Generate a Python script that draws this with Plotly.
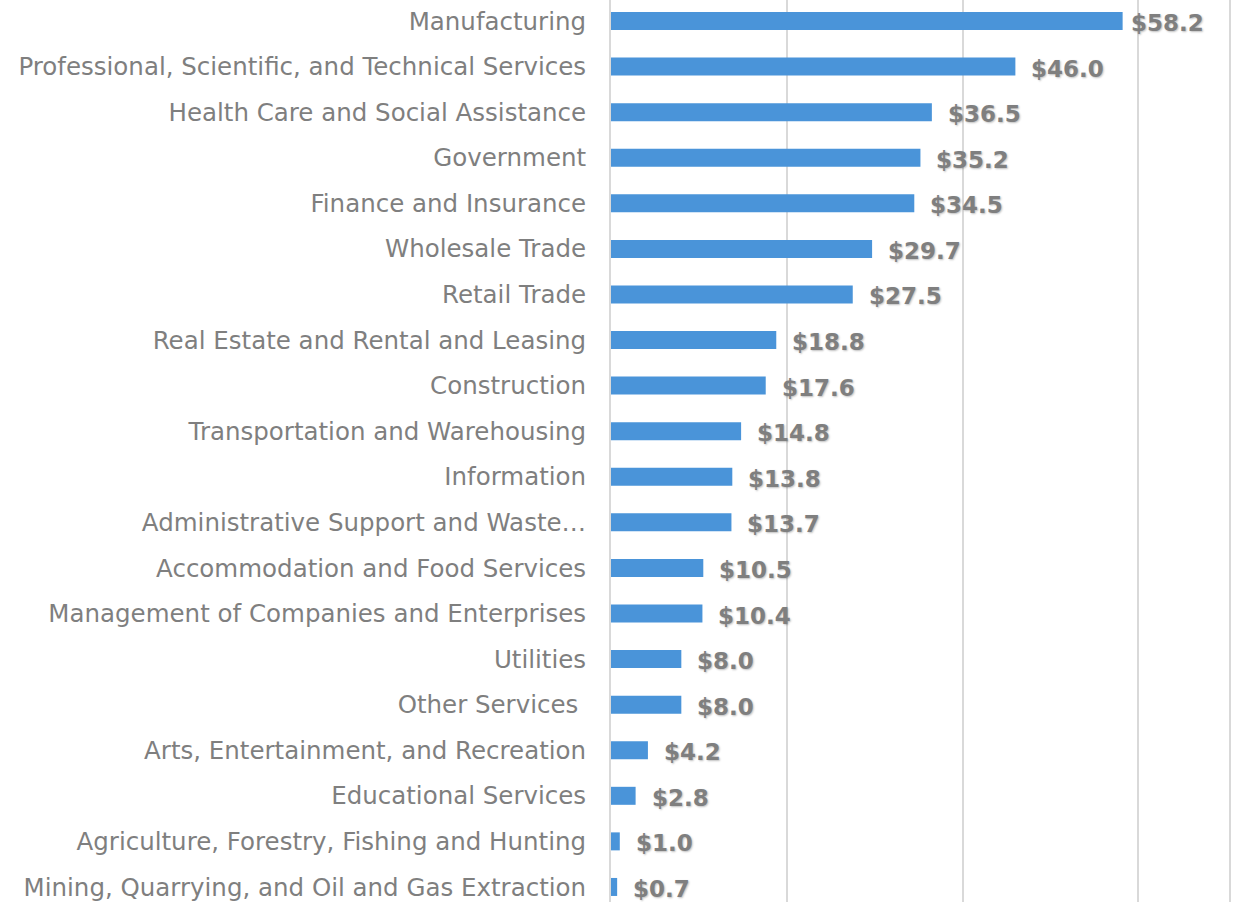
import plotly.graph_objects as go

categories = [
    "Manufacturing",
    "Professional, Scientific, and Technical Services",
    "Health Care and Social Assistance",
    "Government",
    "Finance and Insurance",
    "Wholesale Trade",
    "Retail Trade",
    "Real Estate and Rental and Leasing",
    "Construction",
    "Transportation and Warehousing",
    "Information",
    "Administrative Support and Waste\u2026",
    "Accommodation and Food Services",
    "Management of Companies and Enterprises",
    "Utilities",
    "Other Services\u00a0",
    "Arts, Entertainment, and Recreation",
    "Educational Services",
    "Agriculture, Forestry, Fishing and Hunting",
    "Mining, Quarrying, and Oil and Gas Extraction",
]
values = [58.2, 46.0, 36.5, 35.2, 34.5, 29.7, 27.5, 18.8, 17.6, 14.8,
          13.8, 13.7, 10.5, 10.4, 8.0, 8.0, 4.2, 2.8, 1.0, 0.7]
value_labels = ["$%.1f" % v for v in values]

BAR = "#4a94d9"
TXT = "#7f7f7f"
GRID = "#d9d9d9"

fig = go.Figure()
fig.add_trace(go.Bar(
    x=values, y=categories, orientation="h",
    marker=dict(color=BAR, line=dict(width=0)),
    width=0.395, hoverinfo="skip",
))

for i, (c, v, t) in enumerate(zip(categories, values, value_labels)):
    fig.add_annotation(
        x=v, y=c, text="<b>%s</b>" % t, showarrow=False,
        xanchor="left", yanchor="middle", xshift=6 if i == 0 else 14, yshift=-2,
        font=dict(family="DejaVu Sans", size=23, color=TXT,
                  shadow="1px 1px 2px rgba(0,0,0,0.25)"),
    )

fig.update_layout(
    width=1236, height=902,
    margin=dict(l=611, r=7, t=0, b=0, autoexpand=False),
    paper_bgcolor="white", plot_bgcolor="white",
    showlegend=False,
    xaxis=dict(range=[0, 70.3], dtick=20, showgrid=True, gridcolor=GRID,
               gridwidth=2, zeroline=False, showticklabels=False,
               fixedrange=True),
    yaxis=dict(type="category", categoryorder="array", categoryarray=categories,
               range=[19.33, -0.461], showgrid=False, zeroline=False,
               showline=True, mirror=True, linecolor=GRID, linewidth=2,
               ticks="", ticklabelstandoff=18, fixedrange=True,
               tickfont=dict(family="DejaVu Sans", size=24.5, color=TXT)),
)

fig.write_html(
    "out.html",
    config={"displayModeBar": False},
    post_script="document.body.style.margin='0px';document.body.style.overflow='hidden';",
)
